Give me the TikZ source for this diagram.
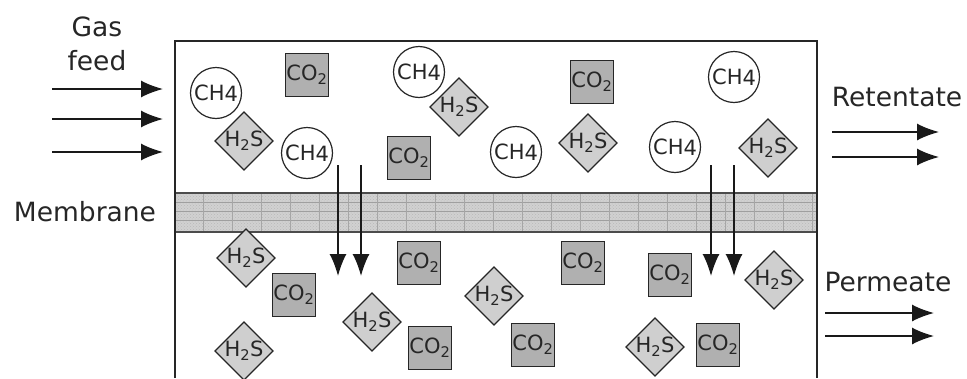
\documentclass[tikz,border=0pt]{standalone}
\usepackage{fontspec}
\setmainfont{DejaVu Sans}
\usetikzlibrary{arrows.meta,shapes.geometric,patterns}
\tikzset{
	molfont/.style={font=\fontsize{21}{24}\selectfont,text=black!85},
	lblfont/.style={font=\fontsize{26.5}{34}\selectfont,text=black!85},
	chmol/.style={circle,draw=black!85,line width=1.2pt,fill=white,minimum size=51pt,inner sep=0pt,molfont},
	comol/.style={rectangle,draw=black!85,line width=1.2pt,fill=gray!62,minimum size=43pt,inner sep=0pt,molfont},
	hsmol/.style={diamond,draw=black!85,line width=1.2pt,fill=gray!38,minimum size=58pt,inner sep=0pt,molfont},
	flow/.style={line width=1.6pt,black!90,-{Latex[length=22pt,width=17pt]}},
}
\begin{document}
\begin{tikzpicture}[x=1pt,y=-1pt]
			\useasboundingbox (0,0) rectangle (967,378);
			% membrane
			\fill[gray!36] (175,193) rectangle (817,232);
			\fill[pattern=crosshatch dots,pattern color=gray!55] (175,193) rectangle (817,232);
			\foreach \y in {202,211,220} \draw[gray!75,line width=.8pt] (175,\y)--(817,\y);
			\foreach \x in {203,232,...,812} \draw[gray!70,line width=.8pt] (\x,193)--(\x,232);
			\draw[black!70,line width=1.2pt] (175,193)--(817,193) (175,232)--(817,232);
			% module
			\draw[black!85,line width=1.5pt] (175,378)--(175,41)--(817,41)--(817,378);
			% labels
			\path
			(97,44) node[lblfont,align=center] (gas) {Gas\\feed}
			(85,212) node[lblfont] (mem) {Membrane}
			(897,97) node[lblfont] (ret) {Retentate}
			(888,282) node[lblfont] (perm) {Permeate}
			;
			% molecules
			\foreach \p [count=\i] in {(216,93),(307,153),(419,72),(516,152),(734,77),(675,147)}
				\node[chmol] (ch\i) at \p {CH\raisebox{-1pt}{4}};
			\foreach \p [count=\i] in {(307,75),(409,158),(592,82),(294,295),(419,263),(430,348),(533,345),(583,263),(670,275),(718,345)}
				\node[comol] (co\i) at \p {CO\textsubscript{2}};
			\foreach \p [count=\i] in {(244,141),(459,107),(588,143),(768,148),(246,258),(372,322),(494,296),(774,280),(655,347),(244,351)}
				\node[hsmol] (hs\i) at \p {H\textsubscript{2}S};
			% flows
			\foreach \y [count=\i] in {89,119,152} {
				\coordinate (fs\i) at (52,\y); \coordinate (fe\i) at (163,\y);
				\draw[flow] (fs\i)--(fe\i);
			}
			\foreach \x [count=\i] in {338,361,711,734} {
				\coordinate (ps\i) at (\x,165); \coordinate (pe\i) at (\x,276);
				\draw[flow] (ps\i)--(pe\i);
			}
			\foreach \y [count=\i] in {132,157} {
				\coordinate (rs\i) at (832,\y); \coordinate (re\i) at (939,\y);
				\draw[flow] (rs\i)--(re\i);
			}
			\foreach \y [count=\i] in {313,336} {
				\coordinate (qs\i) at (825,\y); \coordinate (qe\i) at (934,\y);
				\draw[flow] (qs\i)--(qe\i);
			}
			%\draw[red] (0,0) grid[step=50] (967,378);
\end{tikzpicture}
\end{document}
